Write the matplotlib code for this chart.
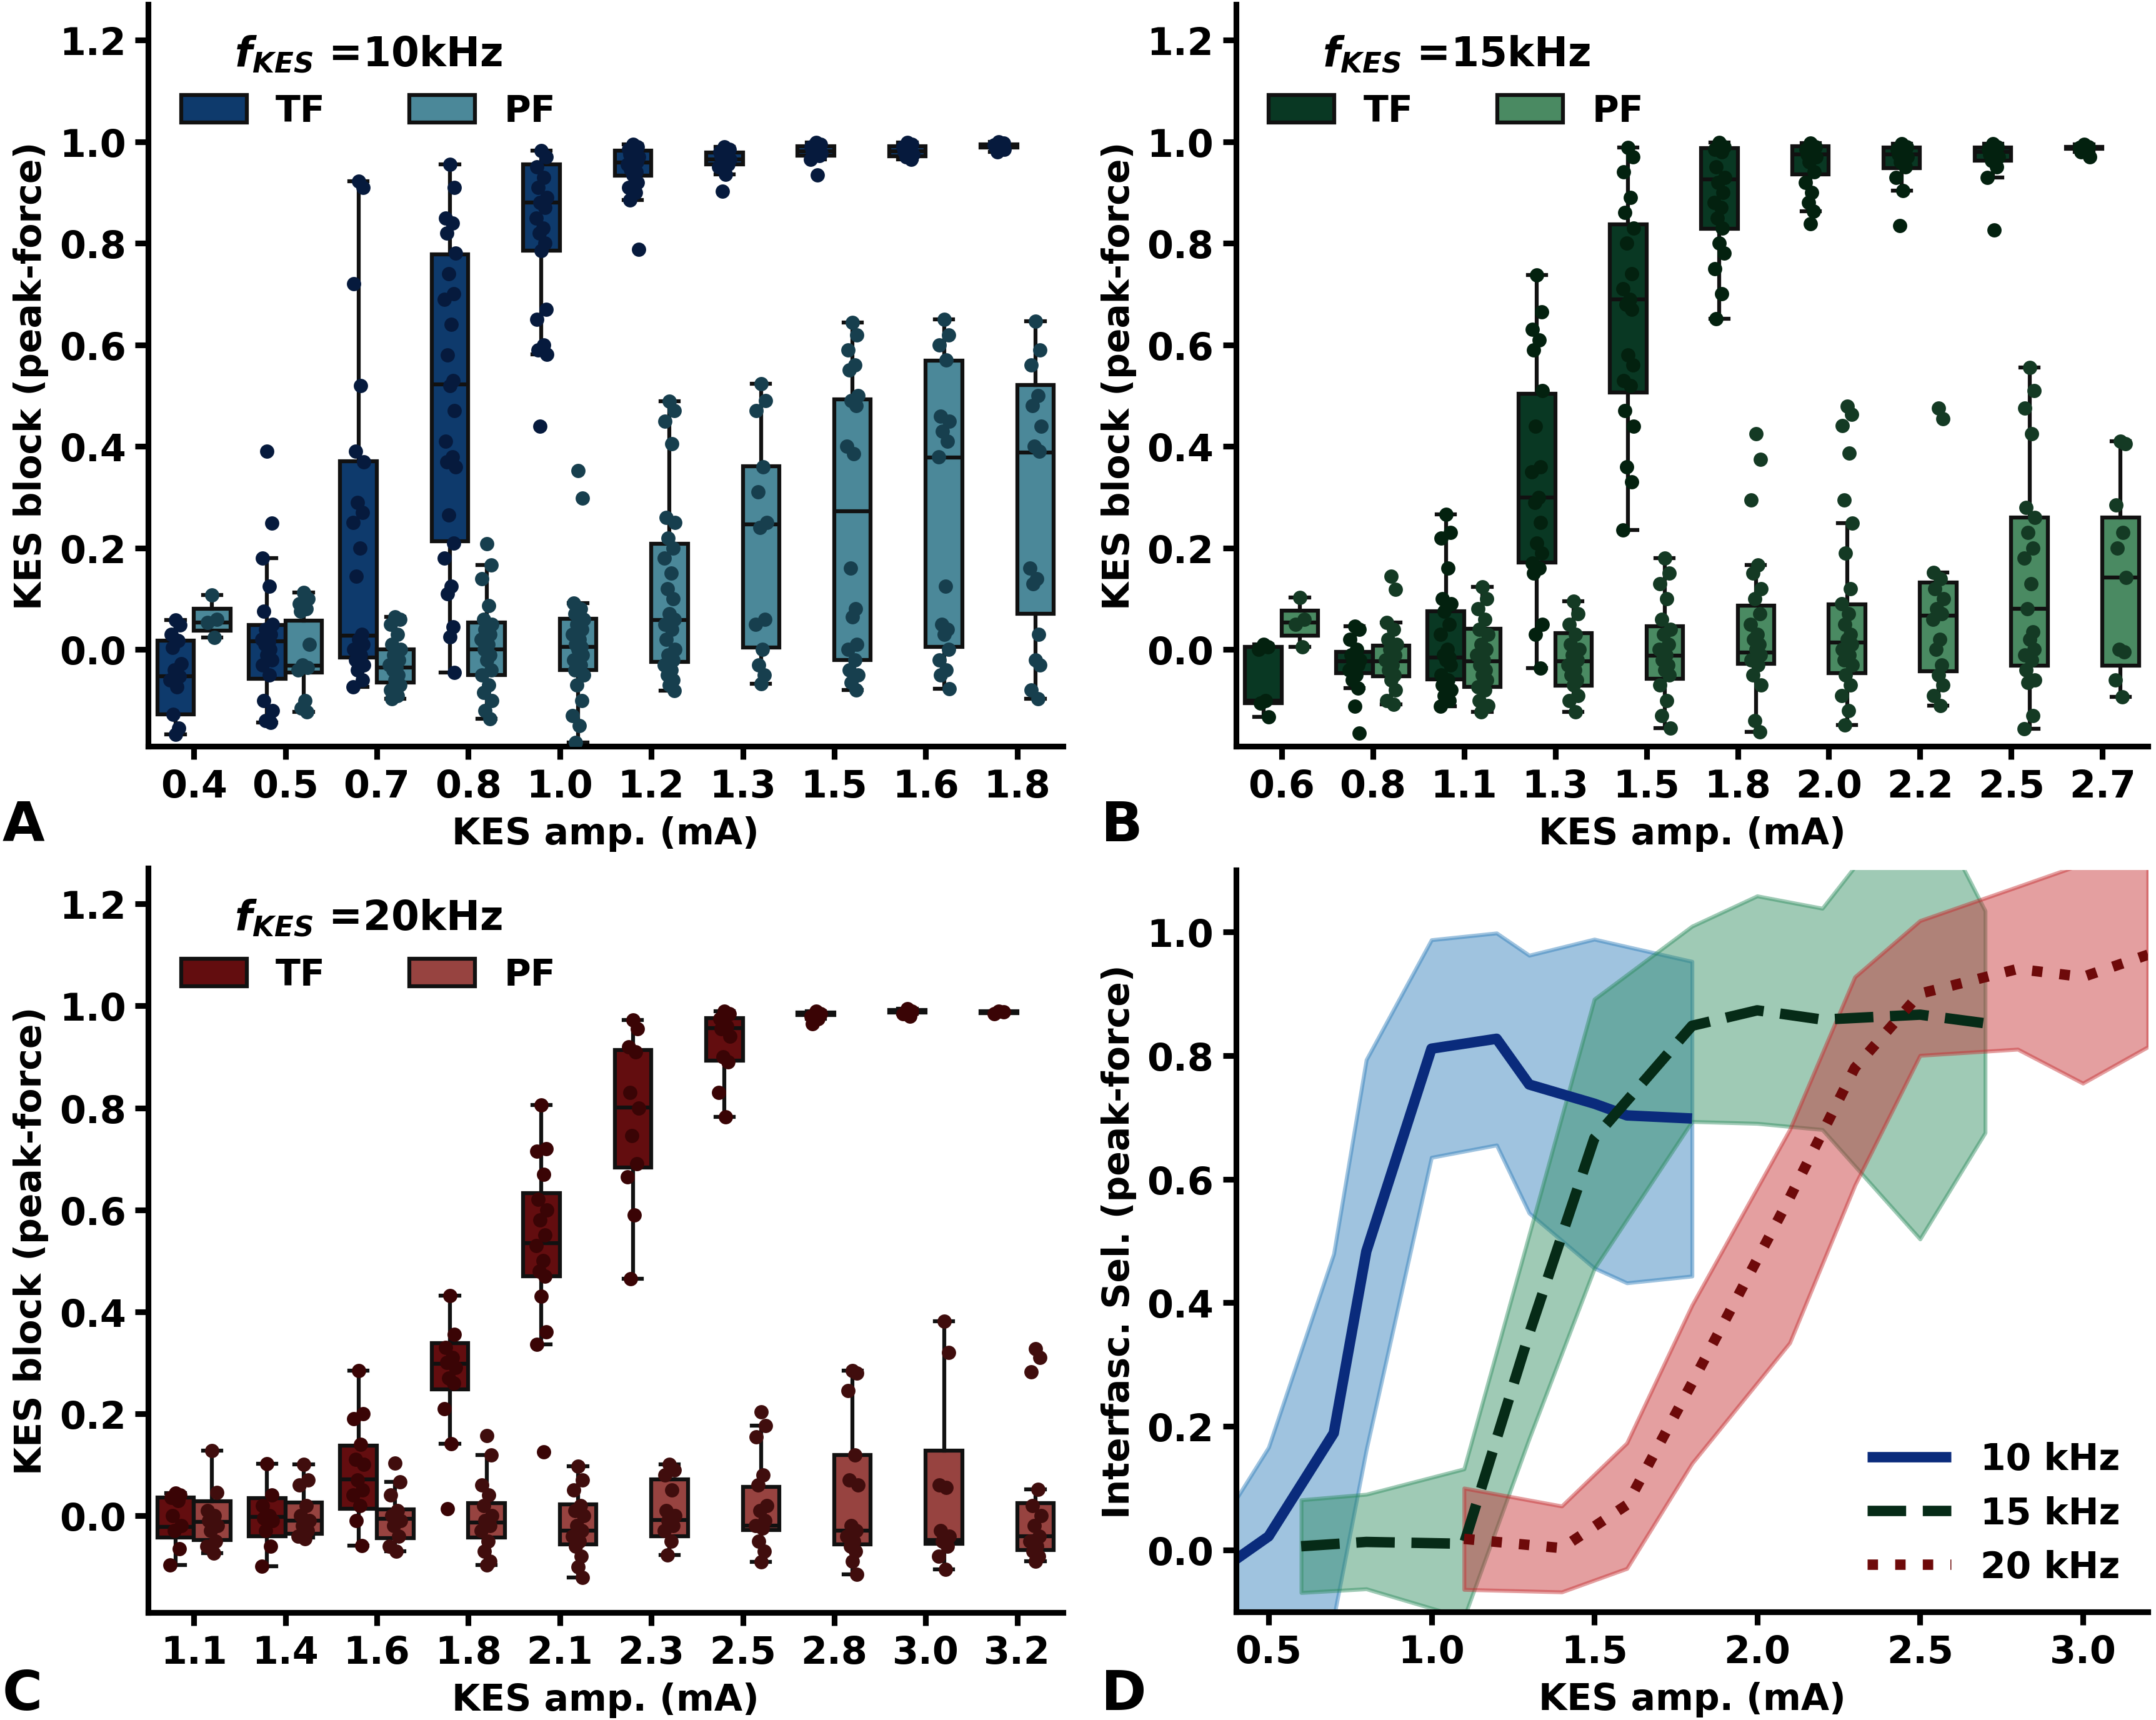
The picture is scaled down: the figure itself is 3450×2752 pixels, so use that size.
import numpy as np
import matplotlib
matplotlib.use("Agg")
import matplotlib.pyplot as plt
from matplotlib.patches import Patch

plt.rcParams['font.family'] = ['DejaVu Sans']
plt.rcParams['font.weight'] = 'bold'
plt.rcParams['axes.labelweight'] = 'bold'
plt.rcParams['mathtext.fontset'] = 'custom'
plt.rcParams['mathtext.it'] = 'DejaVu Sans:italic:bold'
plt.rcParams['mathtext.rm'] = 'DejaVu Sans:bold'
plt.rcParams['mathtext.bf'] = 'DejaVu Sans:bold'

# ---------------- Panel A (10 kHz) ----------------
amps_A = ['0.4', '0.5', '0.7', '0.8', '1.0', '1.2', '1.3', '1.5', '1.6', '1.8']
# (q1, median, q3, whisker_low, whisker_high)
tf_box_A = [(-0.128, -0.053, 0.018, -0.167, 0.058), (-0.057, 0.016, 0.049, -0.144, 0.18),
            (-0.016, 0.027, 0.371, -0.073, 0.922), (0.213, 0.522, 0.778, -0.045, 0.955),
            (0.786, 0.88, 0.955, 0.581, 0.983), (0.933, 0.959, 0.983, 0.885, 0.995),
            (0.955, 0.965, 0.979, 0.936, 0.99), (0.972, 0.981, 0.991, 0.965, 0.998),
            (0.971, 0.981, 0.991, 0.965, 0.998), (0.988, 0.991, 0.995, 0.98, 1.0)]
pf_box_A = [(0.037, 0.054, 0.081, 0.024, 0.108), (-0.045, -0.032, 0.057, -0.122, 0.112),
            (-0.065, -0.035, 0.0, -0.097, 0.065), (-0.05, 0.0, 0.053, -0.136, 0.167),
            (-0.04, 0.006, 0.061, -0.183, 0.091), (-0.024, 0.058, 0.209, -0.081, 0.489),
            (0.004, 0.246, 0.361, -0.067, 0.524), (-0.02, 0.272, 0.493, -0.079, 0.644),
            (0.006, 0.378, 0.569, -0.077, 0.65), (0.071, 0.388, 0.521, -0.097, 0.646)]
tf_pts_A = [
    [0.058, 0.049, 0.03, 0.018, 0.004, -0.028, -0.04, -0.053, -0.06, -0.073, -0.128, -0.154, -0.167],
    [0.39, 0.249, 0.18, 0.125, 0.075, 0.05, 0.04, 0.03, 0.02, 0.015, 0.01, 0.0, -0.01, -0.02, -0.03, -0.05, -0.1, -0.12, -0.14, -0.144],
    [0.922, 0.91, 0.72, 0.52, 0.39, 0.37, 0.29, 0.27, 0.25, 0.2, 0.145, 0.03, 0.02, 0.01, 0.0, -0.01, -0.02, -0.03, -0.04, -0.06, -0.073],
    [0.955, 0.91, 0.85, 0.84, 0.82, 0.78, 0.74, 0.70, 0.69, 0.64, 0.58, 0.53, 0.52, 0.47, 0.41, 0.38, 0.37, 0.36, 0.265, 0.21, 0.18, 0.125, 0.11, 0.045, 0.025, -0.045],
    [0.983, 0.97, 0.95, 0.93, 0.91, 0.89, 0.88, 0.87, 0.85, 0.83, 0.82, 0.80, 0.786, 0.67, 0.65, 0.6, 0.59, 0.581, 0.44],
    [0.995, 0.99, 0.985, 0.98, 0.975, 0.97, 0.965, 0.96, 0.955, 0.95, 0.945, 0.94, 0.935, 0.92, 0.91, 0.9, 0.885, 0.788],
    [0.99, 0.985, 0.98, 0.975, 0.97, 0.965, 0.96, 0.955, 0.95, 0.936, 0.902],
    [0.998, 0.995, 0.99, 0.985, 0.98, 0.978, 0.975, 0.972, 0.965, 0.934],
    [0.998, 0.995, 0.99, 0.985, 0.98, 0.975, 0.97, 0.965],
    [1.0, 0.997, 0.993, 0.99, 0.988, 0.985, 0.98]]
pf_pts_A = [
    [0.108, 0.06, 0.054, 0.024],
    [0.112, 0.1, 0.09, 0.08, 0.075, 0.01, -0.03, -0.035, -0.04, -0.1, -0.115, -0.122],
    [0.065, 0.06, 0.05, 0.03, 0.01, 0.0, -0.01, -0.02, -0.03, -0.035, -0.04, -0.05, -0.06, -0.07, -0.08, -0.09, -0.097],
    [0.209, 0.167, 0.14, 0.087, 0.06, 0.05, 0.04, 0.03, 0.02, 0.01, 0.0, -0.01, -0.02, -0.04, -0.05, -0.07, -0.085, -0.1, -0.12, -0.136],
    [0.352, 0.298, 0.091, 0.08, 0.07, 0.06, 0.05, 0.04, 0.03, 0.02, 0.01, 0.005, 0.0, -0.01, -0.02, -0.03, -0.04, -0.05, -0.07, -0.1, -0.13, -0.15, -0.183],
    [0.489, 0.47, 0.45, 0.405, 0.26, 0.25, 0.22, 0.2, 0.18, 0.15, 0.12, 0.1, 0.07, 0.06, 0.05, 0.04, 0.02, 0.0, -0.01, -0.02, -0.03, -0.04, -0.05, -0.06, -0.07, -0.081],
    [0.524, 0.49, 0.47, 0.36, 0.31, 0.25, 0.24, 0.06, 0.05, 0.0, -0.03, -0.05, -0.067],
    [0.644, 0.62, 0.59, 0.56, 0.55, 0.5, 0.49, 0.48, 0.4, 0.385, 0.16, 0.08, 0.065, 0.01, 0.0, -0.02, -0.04, -0.05, -0.065, -0.079],
    [0.65, 0.62, 0.6, 0.57, 0.46, 0.45, 0.43, 0.41, 0.38, 0.125, 0.05, 0.04, 0.03, 0.0, -0.02, -0.04, -0.05, -0.077],
    [0.646, 0.59, 0.56, 0.5, 0.48, 0.44, 0.4, 0.39, 0.16, 0.14, 0.13, 0.03, -0.02, -0.03, -0.08, -0.097]]

# ---------------- Panel B (15 kHz) ----------------
amps_B = ['0.6', '0.8', '1.1', '1.3', '1.5', '1.8', '2.0', '2.2', '2.5', '2.7']
tf_box_B = [(-0.105, -0.1, 0.005, -0.132, 0.01), (-0.046, -0.023, -0.004, -0.076, 0.046),
            (-0.059, -0.015, 0.076, -0.111, 0.266), (0.171, 0.299, 0.504, -0.037, 0.737),
            (0.506, 0.69, 0.837, 0.236, 0.989), (0.829, 0.926, 0.987, 0.652, 0.999),
            (0.936, 0.975, 0.991, 0.863, 0.997), (0.948, 0.975, 0.989, 0.904, 0.996),
            (0.963, 0.98, 0.989, 0.93, 0.996), (0.986, 0.988, 0.99, 0.98, 0.995)]
pf_box_B = [(0.028, 0.054, 0.077, 0.006, 0.102), (-0.053, -0.023, 0.008, -0.108, 0.054),
            (-0.073, -0.023, 0.041, -0.122, 0.123), (-0.071, -0.023, 0.032, -0.122, 0.095),
            (-0.057, -0.012, 0.046, -0.154, 0.18), (-0.028, -0.006, 0.087, -0.162, 0.167),
            (-0.046, 0.014, 0.089, -0.149, 0.249), (-0.043, 0.067, 0.132, -0.11, 0.152),
            (-0.032, 0.081, 0.26, -0.156, 0.555), (-0.032, 0.142, 0.26, -0.093, 0.41)]
tf_pts_B = [
    [0.01, 0.005, 0.0, -0.1, -0.105, -0.132],
    [0.046, 0.04, 0.02, 0.0, -0.01, -0.02, -0.023, -0.03, -0.04, -0.05, -0.06, -0.076, -0.111, -0.165],
    [0.266, 0.23, 0.22, 0.16, 0.1, 0.09, 0.076, 0.05, 0.03, 0.0, -0.01, -0.015, -0.02, -0.03, -0.05, -0.06, -0.07, -0.08, -0.09, -0.1, -0.111],
    [0.737, 0.665, 0.63, 0.61, 0.59, 0.51, 0.44, 0.36, 0.35, 0.3, 0.29, 0.25, 0.21, 0.19, 0.17, 0.16, 0.15, 0.05, 0.03, -0.037],
    [0.989, 0.97, 0.94, 0.89, 0.86, 0.83, 0.8, 0.74, 0.71, 0.69, 0.68, 0.67, 0.58, 0.56, 0.53, 0.52, 0.47, 0.44, 0.36, 0.33, 0.236],
    [0.999, 0.99, 0.985, 0.98, 0.95, 0.93, 0.92, 0.9, 0.88, 0.87, 0.85, 0.83, 0.8, 0.78, 0.75, 0.7, 0.652],
    [0.997, 0.99, 0.985, 0.98, 0.975, 0.97, 0.96, 0.94, 0.92, 0.9, 0.88, 0.863, 0.839],
    [0.996, 0.99, 0.985, 0.98, 0.975, 0.97, 0.96, 0.95, 0.93, 0.904, 0.835],
    [0.996, 0.99, 0.985, 0.98, 0.975, 0.97, 0.963, 0.95, 0.93, 0.826],
    [0.995, 0.99, 0.988, 0.985, 0.98, 0.97]]
pf_pts_B = [
    [0.102, 0.06, 0.05, 0.006],
    [0.144, 0.119, 0.054, 0.04, 0.02, 0.01, 0.0, -0.01, -0.02, -0.03, -0.04, -0.05, -0.06, -0.08, -0.1, -0.108],
    [0.123, 0.1, 0.08, 0.06, 0.04, 0.03, 0.01, 0.0, -0.01, -0.02, -0.03, -0.04, -0.05, -0.06, -0.073, -0.08, -0.1, -0.11, -0.122],
    [0.095, 0.07, 0.05, 0.03, 0.01, 0.0, -0.01, -0.02, -0.03, -0.04, -0.05, -0.06, -0.07, -0.09, -0.1, -0.122],
    [0.18, 0.15, 0.13, 0.1, 0.06, 0.04, 0.03, 0.01, 0.0, -0.01, -0.02, -0.03, -0.04, -0.05, -0.07, -0.1, -0.13, -0.154],
    [0.425, 0.375, 0.294, 0.167, 0.15, 0.12, 0.1, 0.07, 0.05, 0.03, 0.02, 0.01, 0.0, -0.01, -0.02, -0.03, -0.05, -0.07, -0.14, -0.162],
    [0.479, 0.463, 0.441, 0.387, 0.294, 0.249, 0.19, 0.12, 0.09, 0.07, 0.05, 0.03, 0.02, 0.01, 0.0, -0.01, -0.02, -0.03, -0.05, -0.07, -0.09, -0.12, -0.149],
    [0.475, 0.455, 0.152, 0.14, 0.12, 0.1, 0.08, 0.07, 0.06, 0.02, 0.0, -0.03, -0.05, -0.07, -0.09, -0.11],
    [0.555, 0.51, 0.475, 0.425, 0.28, 0.26, 0.23, 0.2, 0.18, 0.13, 0.08, 0.035, 0.02, 0.0, -0.01, -0.02, -0.04, -0.06, -0.065, -0.13, -0.156],
    [0.41, 0.405, 0.285, 0.23, 0.2, 0.142, 0.0, -0.005, -0.06, -0.093]]

# ---------------- Panel C (20 kHz) ----------------
amps_C = ['1.1', '1.4', '1.6', '1.8', '2.1', '2.3', '2.5', '2.8', '3.0', '3.2']
tf_box_C = [(-0.043, -0.022, 0.035, -0.097, 0.044), (-0.04, -0.002, 0.034, -0.099, 0.102),
            (0.014, 0.071, 0.137, -0.059, 0.285), (0.248, 0.298, 0.339, 0.141, 0.431),
            (0.47, 0.534, 0.633, 0.336, 0.805), (0.683, 0.801, 0.913, 0.465, 0.972),
            (0.893, 0.956, 0.976, 0.782, 0.99), (0.982, 0.985, 0.987, 0.975, 0.99),
            (0.987, 0.99, 0.992, 0.985, 0.995), (0.986, 0.988, 0.99, 0.985, 0.99)]
pf_box_C = [(-0.048, -0.012, 0.028, -0.073, 0.127), (-0.035, -0.01, 0.026, -0.043, 0.1),
            (-0.044, -0.006, 0.012, -0.07, 0.066), (-0.043, -0.014, 0.024, -0.097, 0.119),
            (-0.056, -0.03, 0.022, -0.121, 0.097), (-0.04, -0.008, 0.071, -0.077, 0.1),
            (-0.028, -0.02, 0.056, -0.091, 0.177), (-0.056, -0.03, 0.119, -0.115, 0.285),
            (-0.055, -0.048, 0.127, -0.105, 0.381), (-0.067, -0.04, 0.024, -0.09, 0.051)]
tf_pts_C = [
    [0.044, 0.04, 0.035, 0.03, 0.0, -0.02, -0.03, -0.065, -0.097],
    [0.102, 0.04, 0.02, 0.0, -0.005, -0.01, -0.03, -0.06, -0.099],
    [0.285, 0.2, 0.19, 0.14, 0.11, 0.1, 0.07, 0.05, 0.04, 0.02, -0.01, -0.059],
    [0.431, 0.355, 0.33, 0.31, 0.3, 0.29, 0.27, 0.26, 0.21, 0.141, 0.014],
    [0.805, 0.72, 0.715, 0.67, 0.62, 0.6, 0.58, 0.55, 0.53, 0.5, 0.48, 0.47, 0.43, 0.36, 0.336, 0.125],
    [0.972, 0.955, 0.92, 0.91, 0.83, 0.8, 0.745, 0.69, 0.665, 0.59, 0.465],
    [0.99, 0.985, 0.975, 0.96, 0.955, 0.94, 0.9, 0.89, 0.83, 0.782],
    [0.99, 0.985, 0.98, 0.975, 0.965],
    [0.995, 0.99, 0.985, 0.98],
    [0.99, 0.988, 0.985]]
pf_pts_C = [
    [0.127, 0.045, 0.01, 0.0, -0.01, -0.02, -0.03, -0.05, -0.06, -0.073],
    [0.1, 0.07, 0.06, 0.02, 0.0, -0.01, -0.02, -0.03, -0.04, -0.045],
    [0.103, 0.066, 0.04, 0.01, 0.0, -0.01, -0.02, -0.04, -0.06, -0.07],
    [0.157, 0.119, 0.06, 0.04, 0.02, 0.0, -0.01, -0.02, -0.03, -0.05, -0.07, -0.09, -0.097],
    [0.097, 0.07, 0.05, 0.02, 0.01, 0.0, -0.02, -0.03, -0.04, -0.05, -0.06, -0.08, -0.1, -0.121],
    [0.1, 0.09, 0.08, 0.05, 0.01, 0.0, -0.01, -0.02, -0.03, -0.05, -0.077],
    [0.204, 0.177, 0.155, 0.08, 0.06, 0.02, 0.01, -0.01, -0.02, -0.025, -0.05, -0.07, -0.091],
    [0.285, 0.28, 0.245, 0.119, 0.07, 0.06, -0.02, -0.03, -0.04, -0.05, -0.06, -0.07, -0.09, -0.115],
    [0.381, 0.32, 0.06, 0.055, -0.03, -0.04, -0.05, -0.06, -0.08, -0.105],
    [0.327, 0.31, 0.282, 0.051, 0.02, 0.0, -0.02, -0.04, -0.05, -0.06, -0.07, -0.08, -0.09]]

# ---------------- Panel D ----------------
amp10 = [0.4, 0.5, 0.7, 0.8, 1.0, 1.2, 1.3, 1.5, 1.6, 1.8]
sel10 = [-0.015, 0.022, 0.189, 0.483, 0.811, 0.827, 0.753, 0.722, 0.703, 0.698]
lo10 = [-0.15, -0.13, -0.11, 0.162, 0.635, 0.655, 0.545, 0.456, 0.432, 0.443]
hi10 = [0.082, 0.166, 0.479, 0.793, 0.987, 0.998, 0.962, 0.988, 0.976, 0.952]

amp15 = [0.6, 0.8, 1.1, 1.3, 1.5, 1.8, 2.0, 2.2, 2.5, 2.7]
sel15 = [0.006, 0.013, 0.010, 0.35, 0.666, 0.848, 0.873, 0.858, 0.866, 0.852]
lo15 = [-0.069, -0.063, -0.11, 0.18, 0.455, 0.693, 0.690, 0.680, 0.503, 0.675]
hi15 = [0.081, 0.090, 0.131, 0.51, 0.891, 1.009, 1.058, 1.038, 1.24, 1.034]

amp20 = [1.1, 1.4, 1.6, 1.8, 2.1, 2.3, 2.5, 2.8, 3.0, 3.2]
sel20 = [0.018, 0.003, 0.073, 0.27, 0.57, 0.78, 0.90, 0.94, 0.927, 0.963]
lo20 = [-0.064, -0.068, -0.03, 0.14, 0.335, 0.59, 0.80, 0.81, 0.755, 0.814]
hi20 = [0.10, 0.071, 0.173, 0.396, 0.68, 0.927, 1.018, 1.073, 1.11, 1.13]

# ---------------- Styles ----------------
cols_A = ('#0e3a6c', '#4b8899', '#061a3d', '#173f4e')
cols_B = ('#093823', '#4a8a62', '#03210f', '#143a24')
cols_C = ('#630d0f', '#974340', '#3a0405', '#400d0d')
JIT = [0.0, 0.05, -0.05, 0.025, -0.035, 0.06, -0.015, 0.04, -0.06, 0.015, -0.025, 0.035]
FS = 14
TFS = 14.5
SPW = 2.2

fig = plt.figure(figsize=(11.5, 2753 / 300), dpi=300)
axA = fig.add_axes([0.0687, 0.566, 0.4243, 0.431])
axB = fig.add_axes([0.5733, 0.566, 0.4230, 0.431])
axC = fig.add_axes([0.0687, 0.0625, 0.4243, 0.4325])
axD = fig.add_axes([0.5733, 0.0629, 0.4230, 0.4311])


def style_axes(ax):
    for s in ['top', 'right']:
        ax.spines[s].set_visible(False)
    for s in ['left', 'bottom']:
        ax.spines[s].set_linewidth(SPW)
    ax.tick_params(width=SPW, length=5, labelsize=TFS)
    for lab in ax.get_xticklabels() + ax.get_yticklabels():
        lab.set_fontweight('bold')


def box_panel(ax, labels, tf_box, pf_box, tf_pts, pf_pts, cols, title):
    n = len(labels)
    groups = [(tf_box, tf_pts, -0.2, cols[0], cols[2]),
              (pf_box, pf_pts, 0.2, cols[1], cols[3])]
    for stats, pts, off, fc, pc in groups:
        bst = [dict(q1=s[0], med=s[1], q3=s[2], whislo=s[3], whishi=s[4], fliers=[])
               for s in stats]
        pos = np.arange(n) + off
        lp = dict(color='#111111', linewidth=1.5)
        ax.bxp(bst, positions=pos, widths=0.4, patch_artist=True, showfliers=False,
               boxprops=dict(facecolor=fc, edgecolor='#111111', linewidth=1.5),
               medianprops=lp, whiskerprops=lp, capprops=lp, capwidths=0.2,
               manage_ticks=False)
        for i, vals in enumerate(pts):
            xs = [i + off + JIT[k % len(JIT)] for k in range(len(vals))]
            ax.scatter(xs, vals, s=30, color=pc, zorder=3, linewidths=0)
    ax.set_xlim(-0.5, n - 0.5)
    ax.set_ylim(-0.19, 1.27)
    ax.set_xticks(np.arange(n))
    ax.set_xticklabels(labels)
    ax.set_yticks([0.0, 0.2, 0.4, 0.6, 0.8, 1.0, 1.2])
    ax.set_yticklabels(['%.1f' % v for v in [0.0, 0.2, 0.4, 0.6, 0.8, 1.0, 1.2]])
    ax.set_xlabel('KES amp. (mA)', fontsize=FS, fontweight='bold')
    ax.set_ylabel('KES block (peak-force)', fontsize=FS, fontweight='bold')
    handles = [Patch(facecolor=cols[0], edgecolor='#111111', linewidth=1.5, label='TF'),
               Patch(facecolor=cols[1], edgecolor='#111111', linewidth=1.5, label='PF')]
    leg = ax.legend(handles=handles, title=title, ncol=2, loc='upper left',
                    bbox_to_anchor=(0.0, 1.004), frameon=False, fontsize=FS,
                    title_fontsize=15.5, handlelength=1.8, handleheight=0.8,
                    columnspacing=2.3, handletextpad=0.8, labelspacing=0.5)
    leg.get_title().set_fontweight('bold')
    style_axes(ax)


box_panel(axA, amps_A, tf_box_A, pf_box_A, tf_pts_A, pf_pts_A, cols_A, r'$f_{KES}$ =10kHz')
box_panel(axB, amps_B, tf_box_B, pf_box_B, tf_pts_B, pf_pts_B, cols_B, r'$f_{KES}$ =15kHz')
box_panel(axC, amps_C, tf_box_C, pf_box_C, tf_pts_C, pf_pts_C, cols_C, r'$f_{KES}$ =20kHz')

# Panel D
band_specs = [(amp10, lo10, hi10, '#2a7ab8'),
              (amp15, lo15, hi15, '#2a8a5c'),
              (amp20, lo20, hi20, '#c42b2e')]
for xs, lo, hi, c in band_specs:
    axD.fill_between(xs, lo, hi, facecolor=c, edgecolor=c, alpha=0.45, linewidth=1.5)
axD.plot(amp10, sel10, color='#0a2b7c', lw=4, ls='-', label='10 kHz', solid_capstyle='butt')
axD.plot(amp15, sel15, color='#062b17', lw=4, ls='--', label='15 kHz')
axD.plot(amp20, sel20, color='#6e0a0a', lw=4, ls=':', label='20 kHz')
axD.set_xlim(0.4, 3.2)
axD.set_ylim(-0.1, 1.1)
axD.set_xticks([0.5, 1.0, 1.5, 2.0, 2.5, 3.0])
axD.set_xticklabels(['%.1f' % v for v in [0.5, 1.0, 1.5, 2.0, 2.5, 3.0]])
axD.set_yticks([0.0, 0.2, 0.4, 0.6, 0.8, 1.0])
axD.set_yticklabels(['%.1f' % v for v in [0.0, 0.2, 0.4, 0.6, 0.8, 1.0]])
axD.set_xlabel('KES amp. (mA)', fontsize=FS, fontweight='bold')
axD.set_ylabel('Interfasc. Sel. (peak-force)', fontsize=FS, fontweight='bold')
axD.legend(loc='lower right', frameon=False, fontsize=FS, handlelength=2.3,
           bbox_to_anchor=(1.005, -0.008))
style_axes(axD)

# Panel letters
for lab, x, y in [('A', 4, 1322), ('B', 1762, 1322), ('C', 4, 2712), ('D', 1762, 2712)]:
    fig.text(x / 3450, 1 - y / 2753, lab, fontsize=21, fontweight='bold',
             ha='left', va='center')

fig.savefig('out.png', dpi=300)
